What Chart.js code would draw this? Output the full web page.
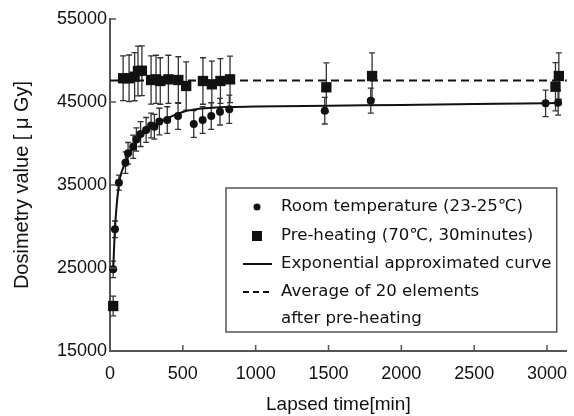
<!DOCTYPE html>
<html>
<head>
<meta charset="utf-8">
<script src="https://cdn.jsdelivr.net/npm/chart.js@4"></script>
<style>
  html, body { margin: 0; padding: 0; background: #fff; }
</style>
</head>
<body>
<canvas id="canvas" width="574" height="416"></canvas>
<script>
// room temperature (23-25 C)
const roomTime  = [22, 34, 61, 106, 124, 159, 181, 210, 248, 282, 305, 339, 393, 467, 575, 636, 695, 755, 819, 1474, 1790, 2990, 3076];
const roomValue = [24840, 29660, 35280, 37690, 38820, 39610, 40480, 41140, 41630, 42170, 42020, 42650, 42830, 43310, 42350, 42830, 43310, 43830, 44120, 43950, 45160, 44840, 44910];
const roomError = [1000, 1000, 900, 1300, 1300, 1400, 1400, 1500, 1500, 1500, 1500, 1600, 1600, 1600, 1600, 1600, 1600, 1600, 1700, 1600, 1500, 1600, 1500];

// pre-heating (70 C, 30 minutes)
const heatTime  = [22, 90, 131, 169, 192, 219, 282, 316, 345, 401, 469, 523, 638, 699, 758, 824, 1485, 1799, 3058, 3081];
const heatValue = [20420, 47860, 47860, 48050, 48730, 48770, 47650, 47730, 47530, 47730, 47650, 46930, 47530, 47130, 47530, 47730, 46770, 48130, 46840, 48130];
const heatError = [1200, 2700, 2800, 2900, 3000, 3000, 2900, 2900, 2800, 2900, 2800, 2900, 2800, 2800, 2700, 2800, 2950, 2800, 2900, 2800];

// exponential approximated curve
const curveTime  = [22, 34, 61, 100, 150, 200, 250, 300, 400, 500, 600, 700, 800, 1000, 1500, 2000, 2500, 3000, 3080];
const curveValue = [24800, 29700, 35000, 37500, 39300, 40600, 41500, 42200, 43100, 43800, 44150, 44300, 44400, 44450, 44550, 44650, 44750, 44850, 44870];

// average of 20 elements after pre-heating
const averageTime  = [0, 3135];
const averageValue = [47600, 47600];

const xTicks = [0, 500, 1000, 1500, 2000, 2500, 3000];
const yTicks = [15000, 25000, 35000, 45000, 55000];

const legendLabels = [
  'Room temperature (23-25℃)',
  'Pre-heating (70℃, 30minutes)',
  'Exponential approximated curve',
  'Average of 20 elements',
  'after pre-heating'
];

const toPoints = (xs, ys) => xs.map((t, i) => ({ x: t, y: ys[i] }));

const errorBars = {
  id: 'errorBars',
  beforeDatasetsDraw(chart) {
    const { ctx, scales: { x, y } } = chart;
    ctx.save();
    ctx.strokeStyle = '#333';
    ctx.lineWidth = 1.3;
    const draw = (times, values, errs) => {
      times.forEach((t, i) => {
        const px = x.getPixelForValue(t);
        const top = y.getPixelForValue(values[i] + errs[i]);
        const bot = y.getPixelForValue(values[i] - errs[i]);
        ctx.beginPath();
        ctx.moveTo(px, top); ctx.lineTo(px, bot);
        ctx.moveTo(px - 3, top); ctx.lineTo(px + 3, top);
        ctx.moveTo(px - 3, bot); ctx.lineTo(px + 3, bot);
        ctx.stroke();
      });
    };
    draw(roomTime, roomValue, roomError);
    draw(heatTime, heatValue, heatError);
    ctx.restore();
  }
};

const extras = {
  id: 'extras',
  afterDraw(chart) {
    const { ctx, chartArea: ca, scales: { x, y } } = chart;
    ctx.save();
    // inward tick marks
    ctx.strokeStyle = '#555';
    ctx.lineWidth = 1.5;
    ctx.beginPath();
    xTicks.forEach(v => {
      const px = x.getPixelForValue(v);
      ctx.moveTo(px, ca.bottom); ctx.lineTo(px, ca.bottom - 6);
    });
    yTicks.forEach(v => {
      const py = y.getPixelForValue(v);
      ctx.moveTo(ca.left, py); ctx.lineTo(ca.left + 6, py);
    });
    ctx.stroke();

    // legend box
    const bl = ca.left + 116, bt = ca.top + 169, br = ca.right - 10, bb = ca.bottom - 19;
    ctx.fillStyle = '#fff';
    ctx.fillRect(bl, bt, br - bl, bb - bt);
    ctx.strokeStyle = '#555';
    ctx.lineWidth = 1.5;
    ctx.strokeRect(bl, bt, br - bl, bb - bt);

    const mx = bl + 31, tx = bl + 55;
    const rows = [bt + 19, bt + 48, bt + 76, bt + 104, bt + 131];
    ctx.fillStyle = '#111';
    // circle
    ctx.beginPath(); ctx.arc(mx, rows[0], 3.5, 0, Math.PI * 2); ctx.fill();
    // square
    ctx.fillRect(mx - 5, rows[1] - 5, 10, 10);
    // solid line
    ctx.strokeStyle = '#111';
    ctx.lineWidth = 2;
    ctx.beginPath(); ctx.moveTo(mx - 14, rows[2]); ctx.lineTo(mx + 15, rows[2]); ctx.stroke();
    // dashed line
    ctx.setLineDash([6, 4]);
    ctx.beginPath(); ctx.moveTo(mx - 14, rows[3]); ctx.lineTo(mx + 15, rows[3]); ctx.stroke();
    ctx.setLineDash([]);

    ctx.font = '16.6px "DejaVu Sans"';
    ctx.textBaseline = 'middle';
    ctx.textAlign = 'left';
    legendLabels.forEach((s, i) => ctx.fillText(s, tx, rows[i]));
    ctx.restore();
  }
};

const data = {
  datasets: [
    {
      label: legendLabels[3],
      data: toPoints(averageTime, averageValue),
      showLine: true,
      borderColor: '#111',
      borderWidth: 2,
      borderDash: [8, 5],
      pointRadius: 0,
      clip: false
    },
    {
      label: legendLabels[2],
      data: toPoints(curveTime, curveValue),
      showLine: true,
      borderColor: '#111',
      borderWidth: 2,
      cubicInterpolationMode: 'monotone',
      pointRadius: 0,
      clip: false
    },
    {
      label: legendLabels[0],
      data: toPoints(roomTime, roomValue),
      pointStyle: 'circle',
      pointRadius: 4,
      backgroundColor: '#111',
      borderColor: '#111',
      borderWidth: 0,
      clip: false
    },
    {
      label: legendLabels[1],
      data: toPoints(heatTime, heatValue),
      pointStyle: 'rect',
      pointRadius: 7.3,
      backgroundColor: '#111',
      borderColor: '#111',
      borderWidth: 0,
      clip: false
    }
  ]
};

const tickFont = { family: '"Liberation Sans", Arial, sans-serif', size: 18 };

const config = {
  type: 'scatter',
  data: data,
  options: {
    responsive: false,
    animation: false,
    layout: { padding: { top: 19, right: 1, left: 0, bottom: 0 } },
    plugins: { legend: { display: false }, tooltip: { enabled: false } },
    scales: {
      x: {
        type: 'linear',
        min: 0,
        max: 3135,
        afterBuildTicks: s => { s.ticks = xTicks.map(v => ({ value: v })); },
        afterFit: s => { s.height = 65; s.paddingLeft = 0; s.paddingRight = 0; },
        grid: { display: false, drawTicks: false },
        border: { display: true, color: '#555', width: 2 },
        ticks: { color: '#111', padding: 12, maxRotation: 0, font: tickFont, callback: v => String(v) },
        title: { display: true, text: 'Lapsed time[min]', color: '#111', padding: { top: 0, bottom: 0 }, font: { family: '"Liberation Sans", Arial, sans-serif', size: 19 } }
      },
      y: {
        type: 'linear',
        min: 15000,
        max: 55000,
        afterBuildTicks: s => { s.ticks = yTicks.map(v => ({ value: v })); },
        afterFit: s => { s.width = 110; s.paddingTop = 0; s.paddingBottom = 0; },
        grid: { display: false, drawTicks: false },
        border: { display: true, color: '#555', width: 2 },
        ticks: { color: '#111', padding: 3, font: tickFont, callback: v => String(v) },
        title: { display: true, text: 'Dosimetry value [ μ Gy]', color: '#111', padding: { top: 10, bottom: 0 }, font: { family: '"Liberation Sans", Arial, sans-serif', size: 20 } }
      }
    }
  },
  plugins: [errorBars, extras]
};

const canvas = document.getElementById('canvas');
const chart = new Chart(canvas, config);
</script>
</body>
</html>
